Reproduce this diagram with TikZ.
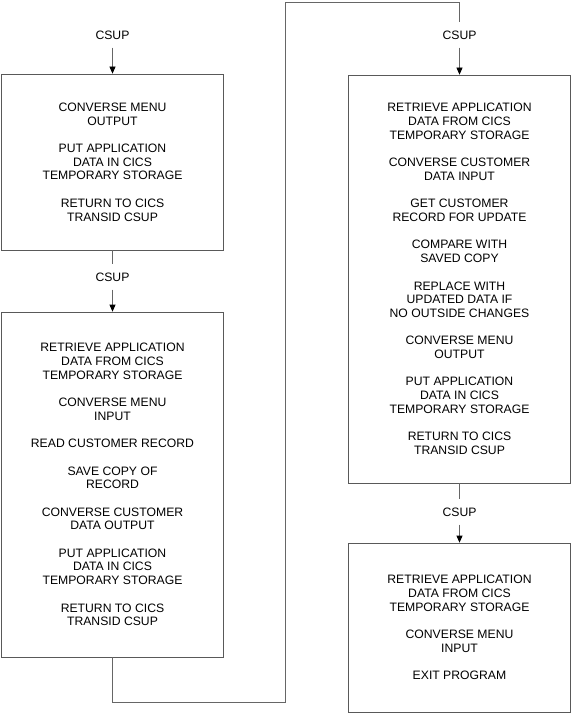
\documentclass[tikz,border=0pt]{standalone}
\usepackage{fontspec}
\setmainfont{Liberation Sans}
\usetikzlibrary{arrows.meta}

\begin{document}
\begin{tikzpicture}[x=1pt,y=-1pt,
    stepbox/.style={draw=gray!70!black, line width=0.7pt, minimum width=222pt, inner sep=0pt, align=center, font=\fontsize{12.2}{13.7}\selectfont},
    trans/.style={inner xsep=2pt, inner ysep=8pt, text height=9pt, text depth=0pt, font=\fontsize{12.2}{13.7}\selectfont},
    link/.style={draw=gray!80!black, line width=0.7pt, >={Triangle[length=7pt,width=6pt,color=black]}}]
                \def \gap {13.7pt}
                \useasboundingbox (0,0) rectangle (571,714);
                % left column
                \node[stepbox, minimum height=176pt] (menuout) at (112.5,162) {CONVERSE MENU\\OUTPUT\\[\gap]PUT APPLICATION\\DATA IN CICS\\TEMPORARY STORAGE\\[\gap]RETURN TO CICS\\TRANSID CSUP};
                \node[stepbox, minimum height=345pt] (readcust) at (112.5,484.5) {RETRIEVE APPLICATION\\DATA FROM CICS\\TEMPORARY STORAGE\\[\gap]CONVERSE MENU\\INPUT\\[\gap]READ CUSTOMER RECORD\\[\gap]SAVE COPY OF\\RECORD\\[\gap]CONVERSE CUSTOMER\\DATA OUTPUT\\[\gap]PUT APPLICATION\\DATA IN CICS\\TEMPORARY STORAGE\\[\gap]RETURN TO CICS\\TRANSID CSUP};
                % right column
                \node[stepbox, minimum height=408pt] (update) at (459.5,279) {RETRIEVE APPLICATION\\DATA FROM CICS\\TEMPORARY STORAGE\\[\gap]CONVERSE CUSTOMER\\DATA INPUT\\[\gap]GET CUSTOMER\\RECORD FOR UPDATE\\[\gap]COMPARE WITH\\SAVED COPY\\[\gap]REPLACE WITH\\UPDATED DATA IF\\NO OUTSIDE CHANGES\\[\gap]CONVERSE MENU\\OUTPUT\\[\gap]PUT APPLICATION\\DATA IN CICS\\TEMPORARY STORAGE\\[\gap]RETURN TO CICS\\TRANSID CSUP};
                \node[stepbox, minimum height=169pt] (exitprog) at (459.5,627.5) {RETRIEVE APPLICATION\\DATA FROM CICS\\TEMPORARY STORAGE\\[\gap]CONVERSE MENU\\INPUT\\[\gap]EXIT PROGRAM};
                % transaction labels
                \node[trans] (csupa) at (112.5,35) {CSUP};
                \node[trans] (csupb) at (112.5,277) {CSUP};
                \node[trans] (csupc) at (459.5,35) {CSUP};
                \node[trans] (csupd) at (459.5,512) {CSUP};
                \coordinate (turnbot) at (285,702);
                \coordinate (turntop) at (285,2);
                % connectors
                \draw[link, ->] (csupa.south) -- (menuout.north);
                \draw[link] (menuout.south) -- (csupb.north);
                \draw[link, ->] (csupb.south) -- (readcust.north);
                \draw[link] (readcust.south) |- (turnbot) -- (turntop) -| (csupc.north);
                \draw[link, ->] (csupc.south) -- (update.north);
                \draw[link] (update.south) -- (csupd.north);
                \draw[link, ->] (csupd.south) -- (exitprog.north);
            \end{tikzpicture}
\end{document}
